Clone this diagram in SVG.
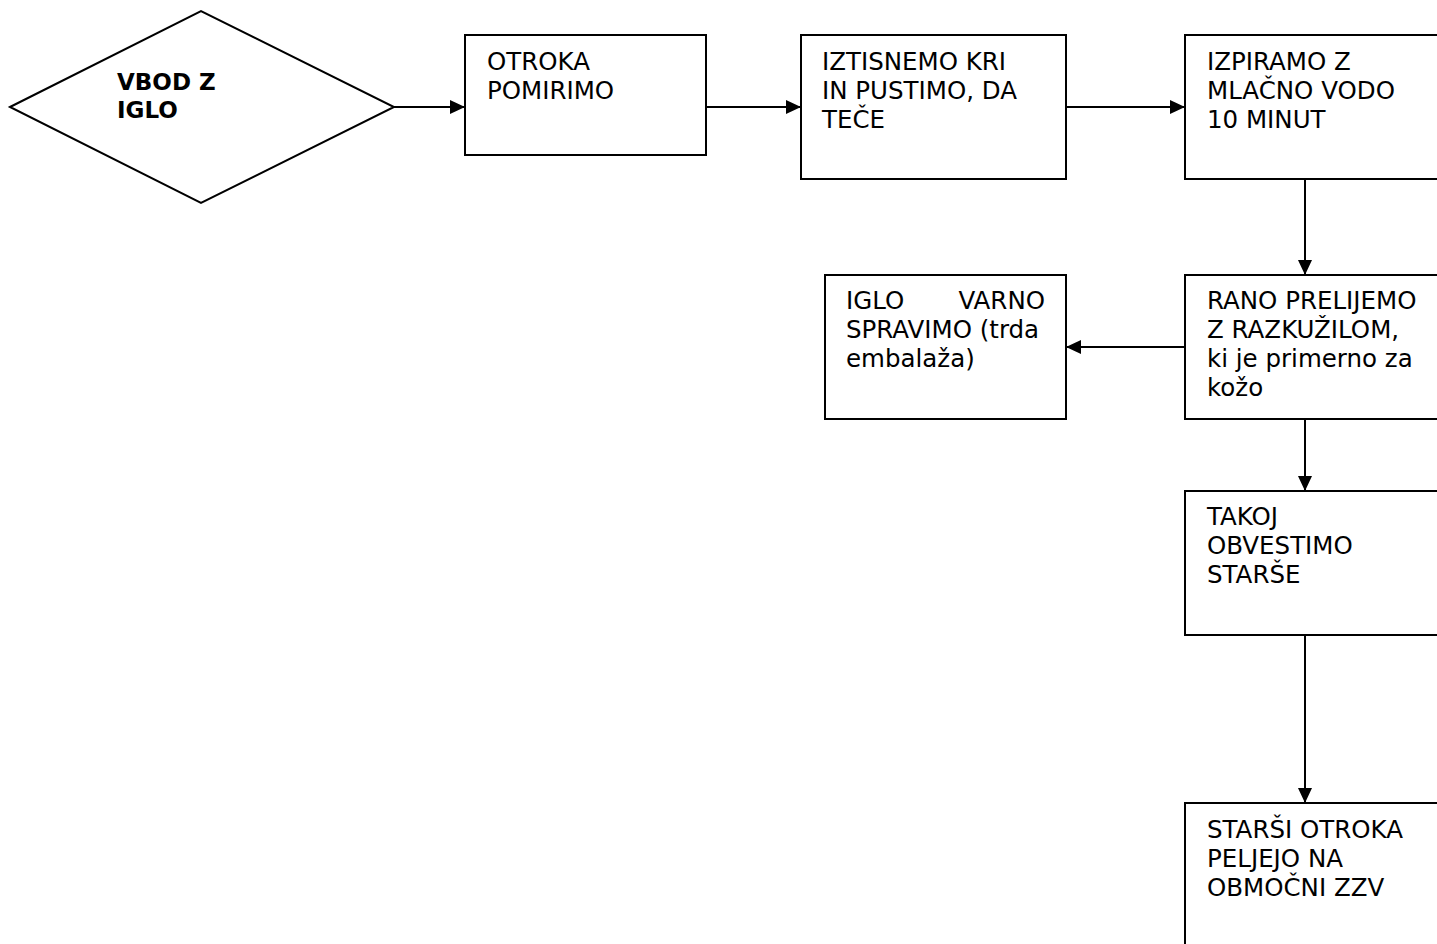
<svg xmlns="http://www.w3.org/2000/svg" width="1437" height="944" viewBox="0 0 1437 944">
<style>
.shape{fill:#fff;stroke:#000;stroke-width:2}
.t{font-family:"DejaVu Sans",Verdana,sans-serif;font-size:24.5px;fill:#000}
.b{font-weight:bold;font-size:23px}
.c{stroke:#000;stroke-width:2;fill:none;marker-end:url(#ah)}
</style>
<defs>
<marker id="ah" markerUnits="userSpaceOnUse" markerWidth="15" markerHeight="14" refX="15" refY="7" orient="auto">
<path d="M0,0 L15,7 L0,14 Z" fill="#000"/>
</marker>
</defs>
<rect width="1437" height="944" fill="#fff"/>
<g id="connectors">
<line class="c" x1="394" y1="107" x2="465" y2="107"/>
<line class="c" x1="706" y1="107" x2="801" y2="107"/>
<line class="c" x1="1066" y1="107" x2="1185" y2="107"/>
<line class="c" x1="1305" y1="179" x2="1305" y2="275"/>
<line class="c" x1="1185" y1="347" x2="1066" y2="347"/>
<line class="c" x1="1305" y1="419" x2="1305" y2="491"/>
<line class="c" x1="1305" y1="635" x2="1305" y2="803"/>
</g>
<g id="n-vbod">
<polygon class="shape" points="10,107 201,11 394,107 201,203"/>
<text class="t b" x="117" y="90">VBOD Z</text>
<text class="t b" x="117" y="118">IGLO</text>
</g>
<g id="n-otroka">
<rect class="shape" x="465" y="35" width="241" height="120"/>
<text class="t" x="487" y="70">OTROKA</text>
<text class="t" x="487" y="99">POMIRIMO</text>
</g>
<g id="n-iztisnemo">
<rect class="shape" x="801" y="35" width="265" height="144"/>
<text class="t" x="822" y="70">IZTISNEMO KRI</text>
<text class="t" x="822" y="99">IN PUSTIMO, DA</text>
<text class="t" x="822" y="128">TEČE</text>
</g>
<g id="n-izpiramo">
<rect class="shape" x="1185" y="35" width="270" height="144"/>
<text class="t" x="1207" y="70">IZPIRAMO Z</text>
<text class="t" x="1207" y="99">MLAČNO VODO</text>
<text class="t" x="1207" y="128">10 MINUT</text>
</g>
<g id="n-iglo">
<rect class="shape" x="825" y="275" width="241" height="144"/>
<text class="t" x="846" y="309">IGLO</text>
<text class="t" x="1045" y="309" text-anchor="end">VARNO</text>
<text class="t" x="846" y="338">SPRAVIMO (trda</text>
<text class="t" x="846" y="367">embalaža)</text>
</g>
<g id="n-rano">
<rect class="shape" x="1185" y="275" width="270" height="144"/>
<text class="t" x="1207" y="309">RANO PRELIJEMO</text>
<text class="t" x="1207" y="338">Z RAZKUŽILOM,</text>
<text class="t" x="1207" y="367">ki je primerno za</text>
<text class="t" x="1207" y="396">kožo</text>
</g>
<g id="n-takoj">
<rect class="shape" x="1185" y="491" width="270" height="144"/>
<text class="t" x="1207" y="525">TAKOJ</text>
<text class="t" x="1207" y="554">OBVESTIMO</text>
<text class="t" x="1207" y="583">STARŠE</text>
</g>
<g id="n-starsi">
<rect class="shape" x="1185" y="803" width="270" height="160"/>
<text class="t" x="1207" y="838">STARŠI OTROKA</text>
<text class="t" x="1207" y="867">PELJEJO NA</text>
<text class="t" x="1207" y="896">OBMOČNI ZZV</text>
</g>
</svg>
